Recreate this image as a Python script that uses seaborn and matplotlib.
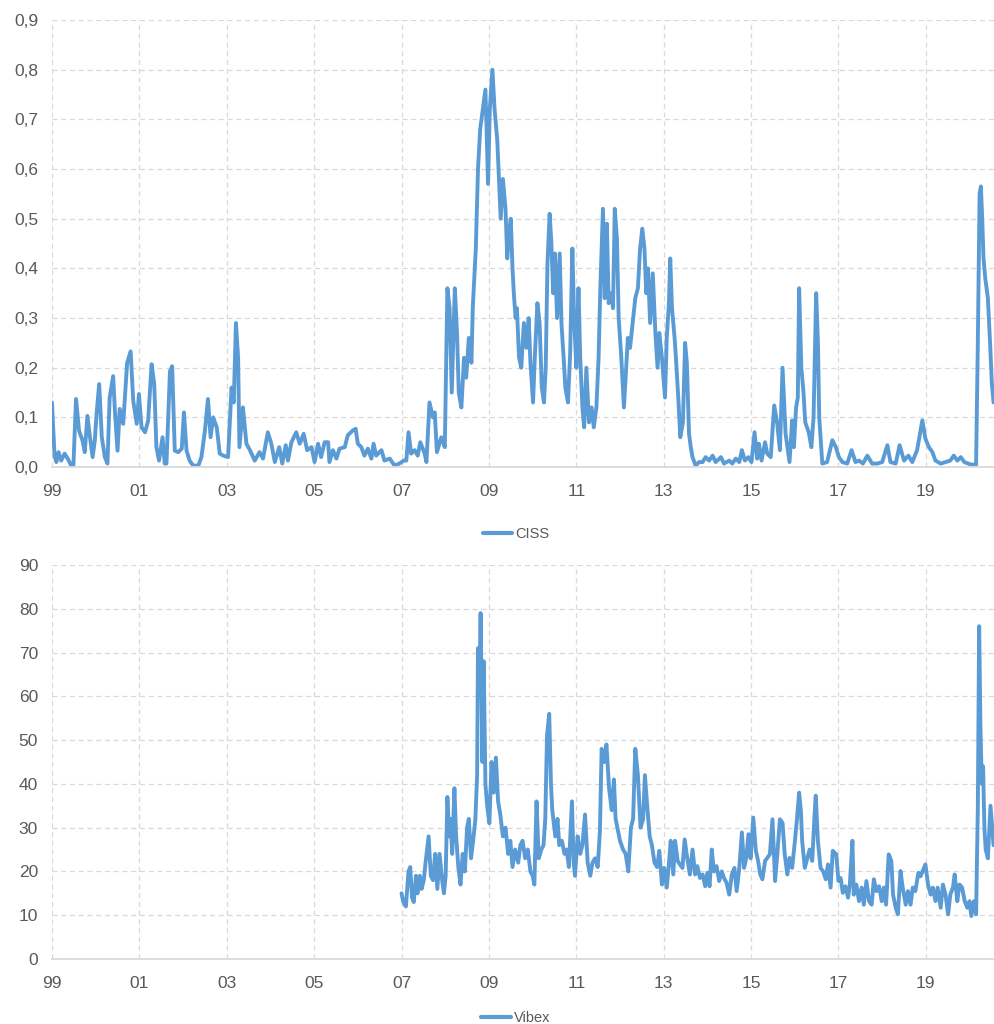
import numpy as np
import pandas as pd
import matplotlib
matplotlib.use("Agg")
import matplotlib.pyplot as plt
from matplotlib import font_manager
import seaborn as sns

# ---------------- data (decimal years) ----------------
ciss_dates = [
    1999.00, 1999.03, 1999.06, 1999.10, 1999.15, 1999.21, 1999.29, 1999.36, 1999.44, 1999.49,
    1999.55, 1999.62, 1999.70, 1999.75, 1999.81, 1999.87, 1999.93, 1999.98, 2000.02, 2000.08,
    2000.14, 2000.21, 2000.27, 2000.32, 2000.40, 2000.44, 2000.50, 2000.55, 2000.63, 2000.72,
    2000.80, 2000.86, 2000.94, 2000.99, 2001.05, 2001.13, 2001.20, 2001.28, 2001.34, 2001.39,
    2001.45, 2001.53, 2001.58, 2001.62, 2001.70, 2001.75, 2001.81, 2001.89, 2001.97, 2002.02,
    2002.08, 2002.15, 2002.23, 2002.35, 2002.42, 2002.50, 2002.57, 2002.63, 2002.69, 2002.77,
    2002.84, 2002.92, 2003.03, 2003.11, 2003.16, 2003.21, 2003.26, 2003.29, 2003.37, 2003.45,
    2003.53, 2003.64, 2003.75, 2003.83, 2003.94, 2004.02, 2004.10, 2004.20, 2004.27, 2004.35,
    2004.40, 2004.48, 2004.59, 2004.67, 2004.76, 2004.84, 2004.94, 2005.01, 2005.09, 2005.16,
    2005.24, 2005.32, 2005.35, 2005.43, 2005.51, 2005.58, 2005.70, 2005.77, 2005.89, 2005.95,
    2006.00, 2006.08, 2006.15, 2006.23, 2006.31, 2006.36, 2006.42, 2006.54, 2006.61, 2006.73,
    2006.84, 2006.95, 2007.05, 2007.11, 2007.16, 2007.22, 2007.30, 2007.37, 2007.43, 2007.53,
    2007.57, 2007.64, 2007.72, 2007.76, 2007.81, 2007.91, 2007.99, 2008.05, 2008.10, 2008.15,
    2008.18, 2008.22, 2008.27, 2008.31, 2008.37, 2008.43, 2008.48, 2008.54, 2008.60, 2008.63,
    2008.70, 2008.75, 2008.80, 2008.86, 2008.92, 2008.95, 2008.98, 2009.02, 2009.08, 2009.13,
    2009.19, 2009.23, 2009.27, 2009.32, 2009.38, 2009.42, 2009.46, 2009.50, 2009.54, 2009.57,
    2009.61, 2009.64, 2009.69, 2009.74, 2009.80, 2009.86, 2009.91, 2009.95, 2010.01, 2010.05,
    2010.11, 2010.16, 2010.21, 2010.26, 2010.30, 2010.34, 2010.39, 2010.43, 2010.47, 2010.51,
    2010.56, 2010.62, 2010.66, 2010.71, 2010.75, 2010.81, 2010.86, 2010.91, 2010.95, 2011.00,
    2011.05, 2011.09, 2011.14, 2011.18, 2011.23, 2011.29, 2011.35, 2011.40, 2011.46, 2011.51,
    2011.55, 2011.61, 2011.65, 2011.70, 2011.74, 2011.80, 2011.84, 2011.88, 2011.93, 2011.97,
    2012.03, 2012.09, 2012.14, 2012.18, 2012.23, 2012.29, 2012.35, 2012.41, 2012.46, 2012.51,
    2012.56, 2012.60, 2012.64, 2012.69, 2012.75, 2012.81, 2012.86, 2012.90, 2012.96, 2013.03,
    2013.07, 2013.12, 2013.15, 2013.19, 2013.25, 2013.28, 2013.34, 2013.38, 2013.44, 2013.49,
    2013.53, 2013.58, 2013.62, 2013.66, 2013.73, 2013.81, 2013.89, 2013.96, 2014.04, 2014.12,
    2014.19, 2014.31, 2014.38, 2014.50, 2014.57, 2014.65, 2014.73, 2014.79, 2014.86, 2014.94,
    2015.01, 2015.08, 2015.14, 2015.18, 2015.24, 2015.32, 2015.37, 2015.45, 2015.53, 2015.60,
    2015.66, 2015.72, 2015.79, 2015.88, 2015.94, 2015.98, 2016.03, 2016.07, 2016.10, 2016.15,
    2016.20, 2016.24, 2016.32, 2016.38, 2016.43, 2016.49, 2016.53, 2016.56, 2016.63, 2016.74,
    2016.86, 2016.94, 2017.01, 2017.09, 2017.20, 2017.30, 2017.39, 2017.47, 2017.56, 2017.66,
    2017.77, 2017.89, 2018.00, 2018.12, 2018.19, 2018.31, 2018.40, 2018.50, 2018.60, 2018.69,
    2018.80, 2018.92, 2018.99, 2019.07, 2019.15, 2019.22, 2019.34, 2019.45, 2019.56, 2019.64,
    2019.72, 2019.80, 2019.88, 2020.03, 2020.15, 2020.19, 2020.23, 2020.26, 2020.29, 2020.32,
    2020.36, 2020.42, 2020.47, 2020.51, 2020.55,
]
ciss_values = [
    0.13, 0.073, 0.023, 0.01, 0.03, 0.013, 0.027, 0.017, 0.003, 0.003,
    0.137, 0.073, 0.053, 0.03, 0.103, 0.06, 0.02, 0.053, 0.107, 0.167,
    0.06, 0.02, 0.007, 0.14, 0.183, 0.113, 0.033, 0.117, 0.087, 0.21,
    0.233, 0.133, 0.087, 0.147, 0.08, 0.07, 0.093, 0.207, 0.167, 0.04,
    0.013, 0.06, 0.007, 0.007, 0.193, 0.203, 0.033, 0.03, 0.037, 0.11,
    0.033, 0.013, 0.003, 0.003, 0.02, 0.073, 0.137, 0.06, 0.10, 0.08,
    0.027, 0.023, 0.02, 0.16, 0.13, 0.29, 0.22, 0.04, 0.12, 0.047,
    0.034, 0.013, 0.03, 0.017, 0.07, 0.047, 0.01, 0.04, 0.007, 0.044,
    0.013, 0.05, 0.07, 0.047, 0.067, 0.034, 0.04, 0.01, 0.047, 0.02,
    0.05, 0.05, 0.01, 0.034, 0.017, 0.037, 0.04, 0.064, 0.074, 0.077,
    0.047, 0.04, 0.023, 0.037, 0.017, 0.047, 0.023, 0.034, 0.013, 0.017,
    0.003, 0.007, 0.013, 0.013, 0.07, 0.027, 0.034, 0.023, 0.05, 0.027,
    0.01, 0.13, 0.10, 0.11, 0.03, 0.06, 0.04, 0.36, 0.32, 0.15,
    0.24, 0.36, 0.27, 0.15, 0.12, 0.22, 0.18, 0.26, 0.21, 0.32,
    0.44, 0.60, 0.68, 0.72, 0.76, 0.67, 0.57, 0.72, 0.80, 0.72,
    0.66, 0.58, 0.50, 0.58, 0.52, 0.42, 0.47, 0.50, 0.40, 0.35,
    0.30, 0.32, 0.22, 0.20, 0.29, 0.24, 0.30, 0.21, 0.13, 0.22,
    0.33, 0.29, 0.16, 0.13, 0.20, 0.41, 0.51, 0.45, 0.35, 0.43,
    0.30, 0.43, 0.29, 0.22, 0.16, 0.13, 0.23, 0.44, 0.30, 0.20,
    0.36, 0.22, 0.12, 0.08, 0.20, 0.09, 0.12, 0.08, 0.12, 0.22,
    0.36, 0.52, 0.34, 0.49, 0.33, 0.35, 0.32, 0.52, 0.46, 0.30,
    0.22, 0.12, 0.20, 0.26, 0.24, 0.29, 0.34, 0.36, 0.44, 0.48,
    0.44, 0.35, 0.40, 0.29, 0.39, 0.27, 0.20, 0.27, 0.22, 0.14,
    0.26, 0.33, 0.42, 0.32, 0.26, 0.22, 0.13, 0.06, 0.09, 0.25,
    0.21, 0.067, 0.04, 0.02, 0.003, 0.01, 0.01, 0.02, 0.013, 0.023,
    0.01, 0.02, 0.007, 0.013, 0.007, 0.017, 0.01, 0.034, 0.013, 0.02,
    0.01, 0.07, 0.017, 0.047, 0.013, 0.05, 0.027, 0.02, 0.124, 0.087,
    0.034, 0.20, 0.067, 0.01, 0.094, 0.04, 0.12, 0.14, 0.36, 0.20,
    0.15, 0.09, 0.07, 0.04, 0.10, 0.35, 0.25, 0.10, 0.007, 0.01,
    0.054, 0.04, 0.02, 0.01, 0.007, 0.034, 0.01, 0.013, 0.007, 0.023,
    0.007, 0.007, 0.01, 0.044, 0.01, 0.007, 0.044, 0.013, 0.023, 0.01,
    0.034, 0.094, 0.057, 0.04, 0.03, 0.013, 0.007, 0.01, 0.013, 0.023,
    0.013, 0.02, 0.01, 0.005, 0.005, 0.25, 0.55, 0.565, 0.50, 0.42,
    0.38, 0.34, 0.25, 0.17, 0.13,
]

vibex_dates = [
    2007.00, 2007.04, 2007.10, 2007.16, 2007.20, 2007.24, 2007.28, 2007.33, 2007.37, 2007.42,
    2007.46, 2007.51, 2007.55, 2007.62, 2007.67, 2007.72, 2007.77, 2007.82, 2007.87, 2007.93,
    2007.97, 2008.01, 2008.05, 2008.09, 2008.12, 2008.16, 2008.21, 2008.25, 2008.30, 2008.35,
    2008.40, 2008.45, 2008.50, 2008.54, 2008.59, 2008.64, 2008.69, 2008.73, 2008.75, 2008.78,
    2008.81, 2008.85, 2008.88, 2008.92, 2008.96, 2009.01, 2009.06, 2009.11, 2009.16, 2009.21,
    2009.26, 2009.32, 2009.38, 2009.44, 2009.49, 2009.54, 2009.60, 2009.67, 2009.72, 2009.77,
    2009.83, 2009.89, 2009.95, 2010.00, 2010.04, 2010.09, 2010.14, 2010.20, 2010.25, 2010.29,
    2010.33, 2010.38, 2010.42, 2010.45, 2010.52, 2010.57, 2010.61, 2010.67, 2010.73, 2010.78,
    2010.83, 2010.90, 2010.94, 2010.97, 2011.03, 2011.09, 2011.14, 2011.20, 2011.26, 2011.32,
    2011.37, 2011.43, 2011.49, 2011.54, 2011.58, 2011.64, 2011.69, 2011.75, 2011.81, 2011.86,
    2011.90, 2011.94, 2012.00, 2012.07, 2012.13, 2012.19, 2012.25, 2012.30, 2012.35, 2012.41,
    2012.47, 2012.53, 2012.57, 2012.63, 2012.68, 2012.73, 2012.79, 2012.85, 2012.90, 2012.96,
    2013.01, 2013.07, 2013.13, 2013.16, 2013.22, 2013.26, 2013.32, 2013.37, 2013.43, 2013.48,
    2013.54, 2013.60, 2013.66, 2013.72, 2013.77, 2013.83, 2013.89, 2013.95, 2014.00, 2014.05,
    2014.10, 2014.15, 2014.21, 2014.27, 2014.33, 2014.38, 2014.44, 2014.50, 2014.56, 2014.62,
    2014.67, 2014.73, 2014.79, 2014.84, 2014.89, 2014.94, 2014.99, 2015.05, 2015.11, 2015.16,
    2015.21, 2015.26, 2015.32, 2015.37, 2015.43, 2015.49, 2015.55, 2015.60, 2015.66, 2015.72,
    2015.77, 2015.83, 2015.88, 2015.94, 2016.00, 2016.05, 2016.10, 2016.14, 2016.17, 2016.23,
    2016.29, 2016.34, 2016.40, 2016.45, 2016.48, 2016.53, 2016.59, 2016.65, 2016.71, 2016.76,
    2016.82, 2016.87, 2016.95, 2017.00, 2017.05, 2017.10, 2017.16, 2017.22, 2017.26, 2017.32,
    2017.35, 2017.41, 2017.47, 2017.53, 2017.58, 2017.64, 2017.70, 2017.76, 2017.81, 2017.87,
    2017.93, 2017.99, 2018.04, 2018.09, 2018.15, 2018.21, 2018.25, 2018.31, 2018.36, 2018.42,
    2018.47, 2018.54, 2018.59, 2018.65, 2018.70, 2018.76, 2018.83, 2018.88, 2018.93, 2018.99,
    2019.05, 2019.11, 2019.16, 2019.22, 2019.27, 2019.34, 2019.39, 2019.45, 2019.51, 2019.56,
    2019.62, 2019.66, 2019.72, 2019.77, 2019.83, 2019.89, 2019.95, 2020.00, 2020.04, 2020.10,
    2020.15, 2020.19, 2020.22, 2020.25, 2020.28, 2020.31, 2020.34, 2020.37, 2020.42, 2020.48,
    2020.52, 2020.55,
]
vibex_values = [
    15, 13, 12, 20, 21, 14, 13, 19, 15, 19,
    16, 18, 22, 28, 19, 18, 24, 16, 24, 18,
    15, 19, 37, 28, 32, 24, 39, 28, 21, 17,
    24, 20, 30, 32, 23, 27, 32, 42, 71, 60,
    79, 45, 68, 40, 35, 31, 45, 38, 46, 36,
    33, 28, 30, 24, 27, 21, 25, 22, 26, 27,
    23, 25, 20, 19, 17, 36, 23, 25, 26, 32,
    51, 56, 40, 34, 28, 32, 26, 27, 24, 25,
    21, 36, 22, 19, 28, 24, 26, 33, 22, 19,
    22, 23, 21, 29, 48, 45, 49, 39, 34, 41,
    32, 30, 27, 25, 24, 20, 30, 32, 48, 42,
    30, 32, 42, 34, 28, 26, 22, 21, 24.7, 17.0,
    20.8, 16.3, 23.0, 27.0, 19.3, 27.0, 22.4, 21.6, 20.8, 27.3,
    23.0, 19.3, 25.0, 19.3, 21.2, 18.5, 19.3, 16.6, 19.7, 16.6,
    25.0, 20.0, 21.2, 17.8, 20.0, 18.5, 17.4, 14.7, 19.3, 20.8,
    15.5, 20.8, 28.9, 20.8, 23.1, 28.5, 23.0, 32.3, 24.7, 22.4,
    19.3, 18.2, 22.4, 23.1, 23.9, 31.9, 17.8, 23.9, 31.9, 31.1,
    23.9, 19.3, 23.1, 20.8, 26.6, 31.9, 38.0, 33.8, 26.9, 20.8,
    23.1, 25.0, 22.4, 32.3, 37.3, 26.9, 20.8, 20.0, 18.2, 21.6,
    16.3, 24.7, 23.9, 17.8, 18.5, 15.1, 16.6, 14.0, 17.0, 27.0,
    14.7, 17.0, 13.2, 16.3, 12.4, 17.8, 13.2, 12.4, 18.2, 15.5,
    16.6, 13.2, 16.3, 12.4, 23.9, 22.4, 14.7, 11.7, 10.2, 20.1,
    16.3, 12.4, 15.5, 12.4, 16.3, 15.5, 19.7, 18.9, 20.1, 21.6,
    17.0, 14.7, 16.3, 13.2, 16.3, 11.7, 17.0, 14.7, 10.2, 14.7,
    16.3, 19.3, 13.2, 17.0, 16.3, 13.2, 11.7, 13.2, 9.8, 13.2,
    10.2, 34.6, 76.0, 53.0, 40.0, 44.0, 30.0, 25.0, 23.0, 35.0,
    30.0, 26.0,
]

x_tick_years = [1999, 2001, 2003, 2005, 2007, 2009, 2011, 2013, 2015, 2017, 2019]
x_tick_labels = ["99", "01", "03", "05", "07", "09", "11", "13", "15", "17", "19"]
ciss_ticks = [0.0, 0.1, 0.2, 0.3, 0.4, 0.5, 0.6, 0.7, 0.8, 0.9]
ciss_tick_labels = ["0,0", "0,1", "0,2", "0,3", "0,4", "0,5", "0,6", "0,7", "0,8", "0,9"]
vibex_ticks = [0, 10, 20, 30, 40, 50, 60, 70, 80, 90]
vibex_tick_labels = ["0", "10", "20", "30", "40", "50", "60", "70", "80", "90"]

# ---------------- styling ----------------
sns.set_theme(style="white")
plt.rcParams["font.family"] = ["Liberation Sans", "DejaVu Sans"]

installed = {f.name for f in font_manager.fontManager.ttflist}
legend_family = "Liberation Sans Narrow" if "Liberation Sans Narrow" in installed else "Liberation Sans"

LINE = "#5B9BD5"
GRID = "#D9D9D9"
TXT = "#595959"

fig = plt.figure(figsize=(9.94, 10.24), dpi=100)
ax1 = fig.add_axes([0.0523, 0.5439, 0.9477, 0.4365])
ax2 = fig.add_axes([0.0523, 0.0635, 0.9477, 0.3848])

df_ciss = pd.DataFrame({"date": ciss_dates, "value": ciss_values, "serie": "CISS"})
df_vibex = pd.DataFrame({"date": vibex_dates, "value": vibex_values, "serie": "Vibex"})


def style_axis(ax, ticks, labels, ymax):
    ax.set_xlim(1999.0, 2020.56)
    ax.set_ylim(0, ymax)
    ax.set_xticks(x_tick_years)
    ax.set_xticklabels(x_tick_labels)
    ax.set_yticks(ticks)
    ax.set_yticklabels(labels)
    ax.grid(True, axis="both", color=GRID, linestyle=(0, (4, 3)), linewidth=0.9)
    ax.set_axisbelow(True)
    for s in ["top", "right", "left"]:
        ax.spines[s].set_visible(False)
    ax.spines["bottom"].set_color(GRID)
    ax.spines["bottom"].set_linewidth(1.3)
    ax.tick_params(axis="both", length=0, labelsize=12.5, colors=TXT)
    ax.tick_params(axis="y", pad=10)
    ax.tick_params(axis="x", pad=12)
    ax.set_xlabel("")
    ax.set_ylabel("")


def add_legend(ax):
    leg = ax.legend(loc="center", bbox_to_anchor=(0.4926, -0.150), frameon=False,
                    handlelength=2.0, handletextpad=0.25, borderpad=0,
                    prop={"family": legend_family, "size": 10.5})
    for t in leg.get_texts():
        t.set_color(TXT)
    for h in leg.get_lines():
        h.set_linewidth(3.0)


sns.lineplot(data=df_ciss, x="date", y="value", hue="serie", palette=[LINE],
             linewidth=2.8, ax=ax1, estimator=None, sort=False)
style_axis(ax1, ciss_ticks, ciss_tick_labels, 0.9)
add_legend(ax1)

sns.lineplot(data=df_vibex, x="date", y="value", hue="serie", palette=[LINE],
             linewidth=2.8, ax=ax2, estimator=None, sort=False)
style_axis(ax2, vibex_ticks, vibex_tick_labels, 90)
add_legend(ax2)

fig.savefig("out.png", dpi=100)
